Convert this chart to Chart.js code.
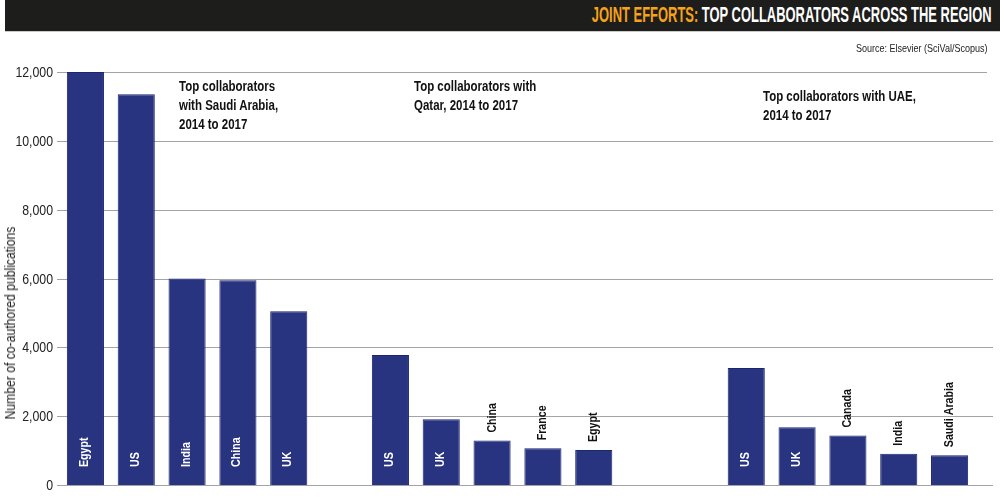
<!DOCTYPE html>
<html>
<head>
<meta charset="utf-8">
<script src="https://cdn.jsdelivr.net/npm/chart.js@4.4.1/dist/chart.umd.min.js"></script>
<style>
  html, body { margin: 0; padding: 0; background: #fff; }
  #wrap { position: relative; width: 1000px; height: 504px; overflow: hidden; font-family: "Liberation Sans", Arial, sans-serif; }
  #chart { position: absolute; left: 0; top: 0; }
  #header {
    position: absolute; left: 5px; top: 0; width: 995px; height: 31px;
    background: #1d1d1b; border-bottom: 1px solid #c9c9c9;
  }
  #headerText {
    position: absolute; right: 8px; top: 2px; white-space: nowrap;
    font-weight: bold; font-size: 22px; line-height: 26px; color: #fff;
    transform-origin: right center;
  }
  #headerText .hl { color: #f6a21b; }
  #source {
    position: absolute; right: 12px; top: 42px; font-size: 11px; color: #222; white-space: nowrap;
    transform: scaleX(0.82); transform-origin: right center;
  }
  .note {
    position: absolute; font-weight: bold; font-size: 14px; line-height: 19px; color: #111;
    white-space: nowrap; transform: scaleX(0.82); transform-origin: left top;
  }
  #yTitle {
    position: absolute; left: 10px; top: 323px; font-size: 14px; color: #222; white-space: nowrap;
    transform: translate(-50%, -50%) rotate(-90deg) scaleX(0.87);
  }
</style>
</head>
<body>
<div id="wrap">
  <canvas id="chart" width="1000" height="504"></canvas>
  <div id="header"><div id="headerText"><span class="hl">JOINT EFFORTS:</span> TOP COLLABORATORS ACROSS THE REGION</div></div>
  <div id="source">Source: Elsevier (SciVal/Scopus)</div>
  <div class="note" style="left:179px; top:77px;">Top collaborators<br>with Saudi Arabia,<br>2014 to 2017</div>
  <div class="note" style="left:414px; top:77px;">Top collaborators with<br>Qatar, 2014 to 2017</div>
  <div class="note" style="left:763px; top:87px;">Top collaborators with UAE,<br>2014 to 2017</div>
  <div id="yTitle">Number of co-authored publications</div>
</div>
<script>
  const saudiCountries = ["Egypt", "US", "India", "China", "UK"];
  const saudiValues = [12000, 11350, 6000, 5950, 5050];

  const qatarCountries = ["US", "UK", "China", "France", "Egypt"];
  const qatarValues = [3780, 1910, 1290, 1065, 1015];

  const uaeCountries = ["US", "UK", "Canada", "India", "Saudi Arabia"];
  const uaeValues = [3400, 1675, 1435, 910, 865];

  const yTicks = [0, 2000, 4000, 6000, 8000, 10000, 12000];

  const FONT = '"Liberation Sans", Arial, sans-serif';
  const BAR_COLOR = "#283480";
  const GRID_COLOR = "#a3a3a3";
  const SQUEEZE = 0.82; // the original uses a narrow typeface

  // squeeze the header into the width it has in the original
  const headerText = document.getElementById("headerText");
  headerText.style.transform = "scaleX(" + (400 / headerText.offsetWidth) + ")";

  // blank categories separate the three groups
  const labels = [...saudiCountries, "", ...qatarCountries, "", "", ...uaeCountries];
  const values = [...saudiValues, null, ...qatarValues, null, null, ...uaeValues];

  // grid lines run a bit wider than the bar area; tick labels drawn narrow
  const gridPlugin = {
    id: "grid",
    beforeDatasetsDraw(chart) {
      const { ctx, scales } = chart;
      ctx.save();
      ctx.strokeStyle = GRID_COLOR;
      ctx.lineWidth = 1;
      ctx.fillStyle = "#222";
      ctx.font = "15px " + FONT;
      ctx.textAlign = "right";
      ctx.textBaseline = "middle";
      yTicks.forEach(v => {
        const y = Math.round(scales.y.getPixelForValue(v)) + 0.5;
        ctx.beginPath();
        ctx.moveTo(57, y);
        ctx.lineTo(v === 12000 ? 987 : 993, y);
        ctx.stroke();

        ctx.save();
        ctx.translate(53, y);
        ctx.scale(SQUEEZE, 1);
        ctx.fillText(v.toLocaleString("en-US"), 0, 0);
        ctx.restore();
      });
      ctx.restore();
    }
  };

  const barLabelPlugin = {
    id: "barLabels",
    afterDatasetsDraw(chart) {
      const { ctx } = chart;
      const meta = chart.getDatasetMeta(0);
      ctx.save();
      ctx.font = "bold 13px " + FONT;
      ctx.textBaseline = "middle";
      ctx.textAlign = "left";
      meta.data.forEach((bar, i) => {
        const v = values[i];
        if (v == null) return;
        const inside = v > 1550;
        ctx.save();
        if (inside) {
          ctx.fillStyle = "#fff";
          ctx.translate(bar.x - 1, bar.base - 18);
        } else {
          ctx.fillStyle = "#111";
          ctx.translate(bar.x, bar.y - 8);
        }
        ctx.rotate(-Math.PI / 2);
        ctx.scale(SQUEEZE, 1);
        ctx.fillText(labels[i], 0, 0);
        ctx.restore();
      });
      ctx.restore();
    }
  };

  new Chart(document.getElementById("chart"), {
    type: "bar",
    data: {
      labels: labels,
      datasets: [{
        data: values,
        backgroundColor: BAR_COLOR,
        borderColor: "#1c2570",
        borderWidth: 1,
        barPercentage: 0.73,
        categoryPercentage: 1
      }]
    },
    options: {
      responsive: false,
      animation: false,
      devicePixelRatio: 1,
      layout: { padding: { left: 0, right: 25, top: 72, bottom: 19 } },
      plugins: { legend: { display: false }, tooltip: { enabled: false } },
      scales: {
        x: { display: false },
        y: {
          min: 0,
          max: 12000,
          border: { display: false },
          grid: { display: false, drawTicks: false },
          afterFit(scale) { scale.width = 60; },
          afterBuildTicks(scale) { scale.ticks = yTicks.map(v => ({ value: v })); },
          ticks: { display: false }
        }
      }
    },
    plugins: [gridPlugin, barLabelPlugin]
  });
</script>
</body>
</html>
